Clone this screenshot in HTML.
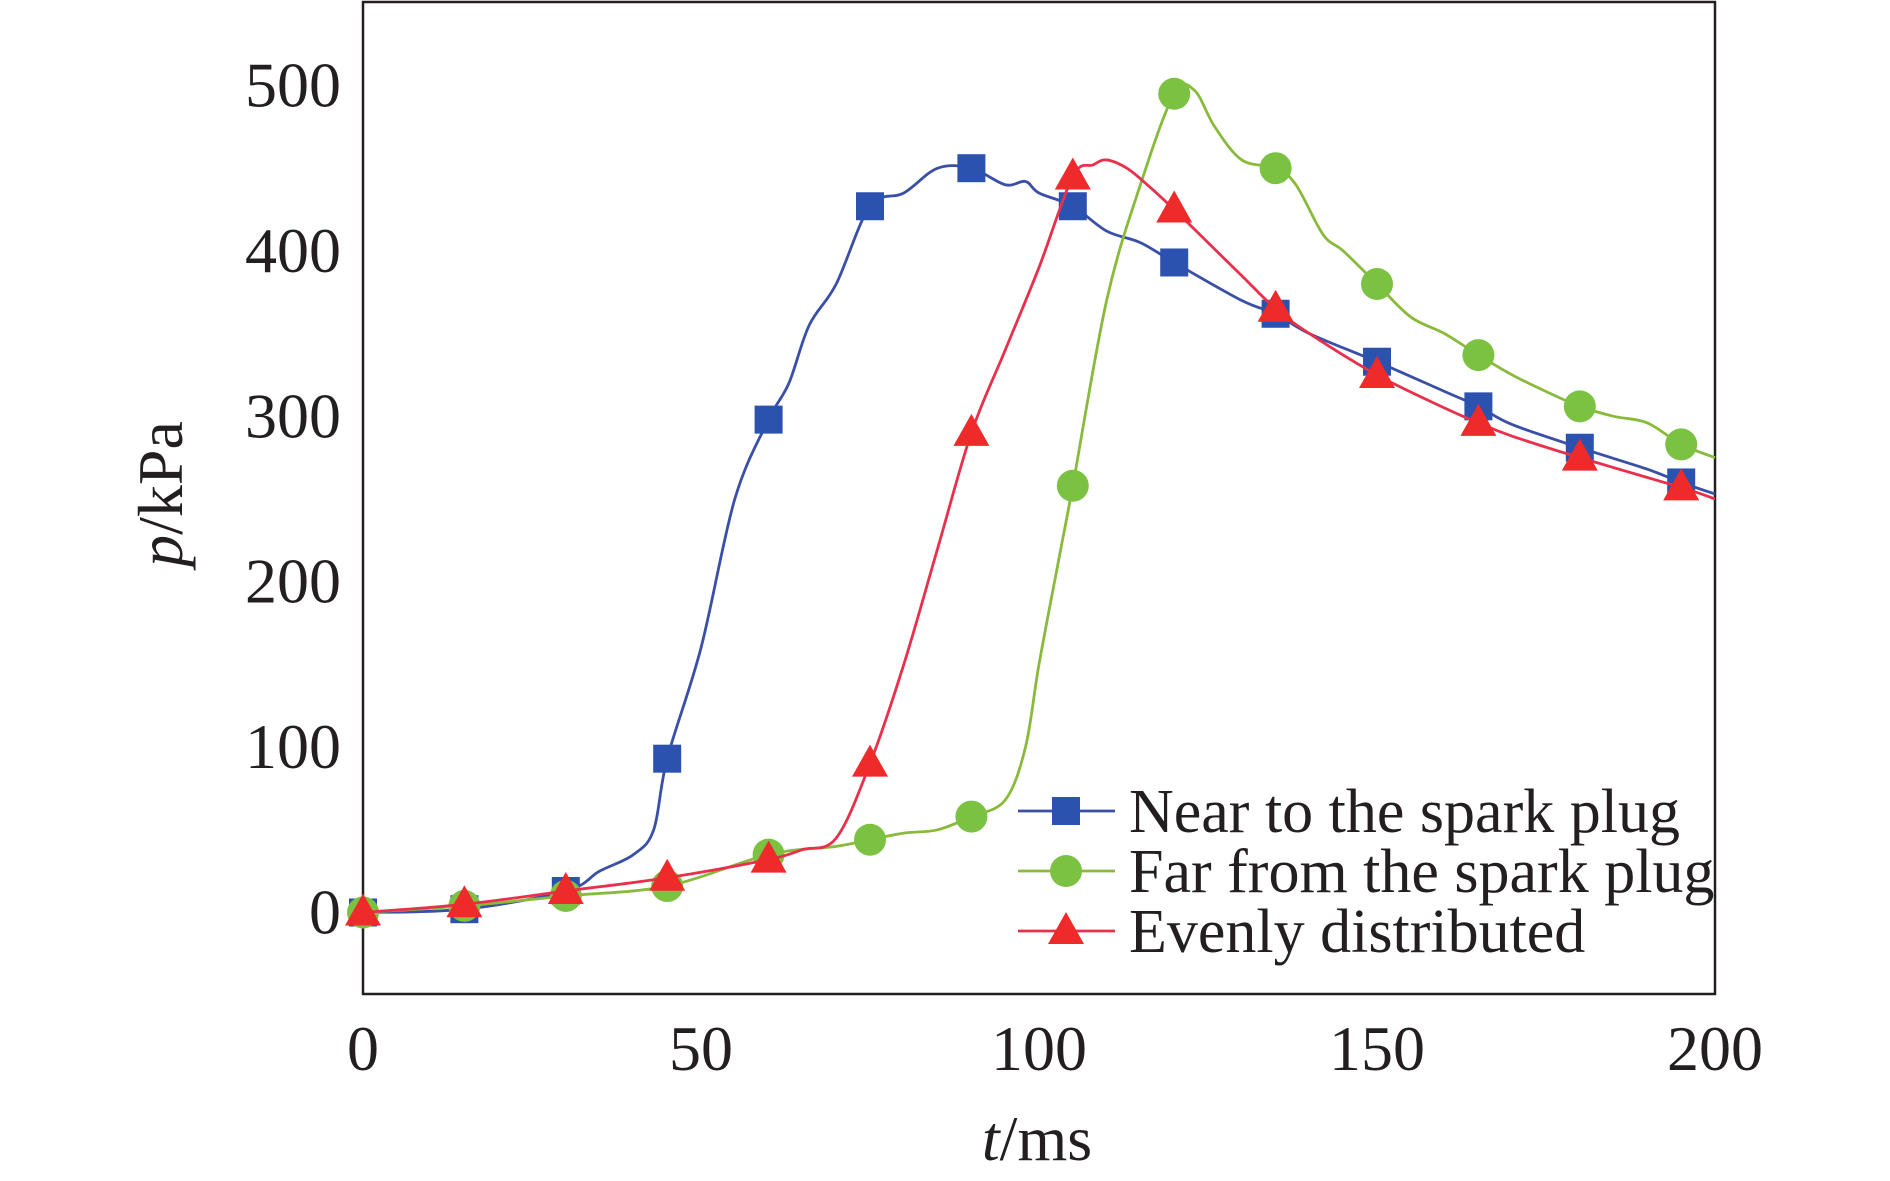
<!DOCTYPE html>
<html><head><meta charset="utf-8"><style>
html,body{margin:0;padding:0;background:#fff}
svg{display:block}
text{font-family:"Liberation Serif",serif;fill:#231f20}
</style></head><body>
<svg id="chart" width="1890" height="1181" viewBox="0 0 1890 1181" xmlns="http://www.w3.org/2000/svg">
<rect x="363" y="2" width="1352" height="992" fill="none" stroke="#231f20" stroke-width="2.5"/>
<g id="series"></g>
<g id="ticks"></g>
<text transform="translate(182,494) rotate(-90)" text-anchor="middle" font-size="64"><tspan font-style="italic">p</tspan>/kPa</text>
<text x="1037" y="1160" text-anchor="middle" font-size="64"><tspan font-style="italic">t</tspan>/ms</text>
<g id="legend"></g>
</svg>
<script>
const xTicks=[0,50,100,150,200];
const yTicks=[0,100,200,300,400,500];
const nearT=[0,15,30,35,40,43,45,50,55,60,63,66,70,75,80,85,90,95,98,100,105,110,115,120,130,135,140,150,160,165,170,180,190,195,200];
const nearP=[0,2,13,25,35,50,93,160,250,298,320,355,380,427,435,450,450,440,442,435,427,412,405,393,370,362,350,333,315,306,295,281,268,260,253];
const farT=[0,15,30,45,60,70,75,80,85,90,95,98,100,103,105,110,115,120,123,126,130,135,138,142,145,150,155,160,165,170,175,180,185,190,195,200];
const farP=[0,4,10,16,35,40,44,48,50,58,68,100,150,215,258,370,440,495,497,475,455,450,440,410,400,380,360,350,337,325,315,306,300,296,283,275];
const evenT=[0,15,30,45,60,65,70,75,80,85,90,95,100,105,108,110,113,116,120,125,130,135,140,150,160,165,170,180,195,200];
const evenP=[0,5,13,21,32,38,45,90,150,220,290,340,390,445,452,455,450,440,425,405,385,365,350,325,305,296,288,275,257,250];
const markerT=[0,15,30,45,60,75,90,105,120,135,150,165,180,195];
const X=t=>363+t/200*1352;
const Y=p=>912.5-p/500*827;
const NS='http://www.w3.org/2000/svg';
const mk=(tag,attrs,parent)=>{const e=document.createElementNS(NS,tag);for(const k in attrs)e.setAttribute(k,attrs[k]);parent.appendChild(e);return e;};
const ticksG=document.getElementById('ticks');
xTicks.forEach(v=>{const t=mk('text',{x:X(v),y:1070,'text-anchor':'middle','font-size':64},ticksG);t.textContent=v;

});
yTicks.forEach(v=>{const t=mk('text',{x:341,y:Y(v)+21,'text-anchor':'end','font-size':64},ticksG);t.textContent=v;

});
function interp(ts,ps,t){for(let i=0;i<ts.length-1;i++){if(t>=ts[i]&&t<=ts[i+1]){const f=(t-ts[i])/(ts[i+1]-ts[i]);return ps[i]+f*(ps[i+1]-ps[i]);}}return ps[ps.length-1];}
function smooth(pts){let d=`M${pts[0][0]},${pts[0][1]}`;for(let i=0;i<pts.length-1;i++){const p0=pts[i-1]||pts[i],p1=pts[i],p2=pts[i+1],p3=pts[i+2]||p2;
const c1=[p1[0]+(p2[0]-p0[0])/6,p1[1]+(p2[1]-p0[1])/6],c2=[p2[0]-(p3[0]-p1[0])/6,p2[1]-(p3[1]-p1[1])/6];d+=`C${c1[0]},${c1[1]} ${c2[0]},${c2[1]} ${p2[0]},${p2[1]}`;}return d;}
function marker(type,x,y,color,g){
 if(type==='square')return mk('rect',{x:x-14,y:y-14,width:28,height:28,fill:color},g);
 if(type==='circle')return mk('circle',{cx:x,cy:y,r:16,fill:color},g);
 return mk('polygon',{points:`${x},${y-19} ${x+18},${y+13} ${x-18},${y+13}`,fill:color},g);}
const seriesG=document.getElementById('series');
const series=[
 {name:'near',ts:nearT,ps:nearP,line:'#3a4fa6',mc:'#2c52b0',type:'square'},
 {name:'far',ts:farT,ps:farP,line:'#8aba3c',mc:'#7cc242',type:'circle'},
 {name:'even',ts:evenT,ps:evenP,line:'#e8304c',mc:'#ee2a2a',type:'triangle'}];
series.forEach(s=>{
 const g=mk('g',{},seriesG);
 
 
 const path=mk('path',{d:smooth(s.ts.map((t,i)=>[X(t),Y(s.ps[i])])),fill:'none',stroke:s.line,'stroke-width':2.8},g);
 
 
 markerT.forEach(t=>{const m=marker(s.type,X(t),Y(interp(s.ts,s.ps,t)),s.mc,g);
 
 });
});
const legendG=document.getElementById('legend');


const labels=['Near to the spark plug','Far from the spark plug','Evenly distributed'];
series.forEach((s,i)=>{const y=811+i*60;
 const g=mk('g',{},legendG);
 
 
 mk('line',{x1:1018,x2:1115,y1:y,y2:y,stroke:s.line,'stroke-width':2.8},g);
 marker(s.type,1066,y,s.mc,g);
 const t=mk('text',{x:1129,y:y+21,'font-size':62},g);t.textContent=labels[i];});
</script>
</body></html>
